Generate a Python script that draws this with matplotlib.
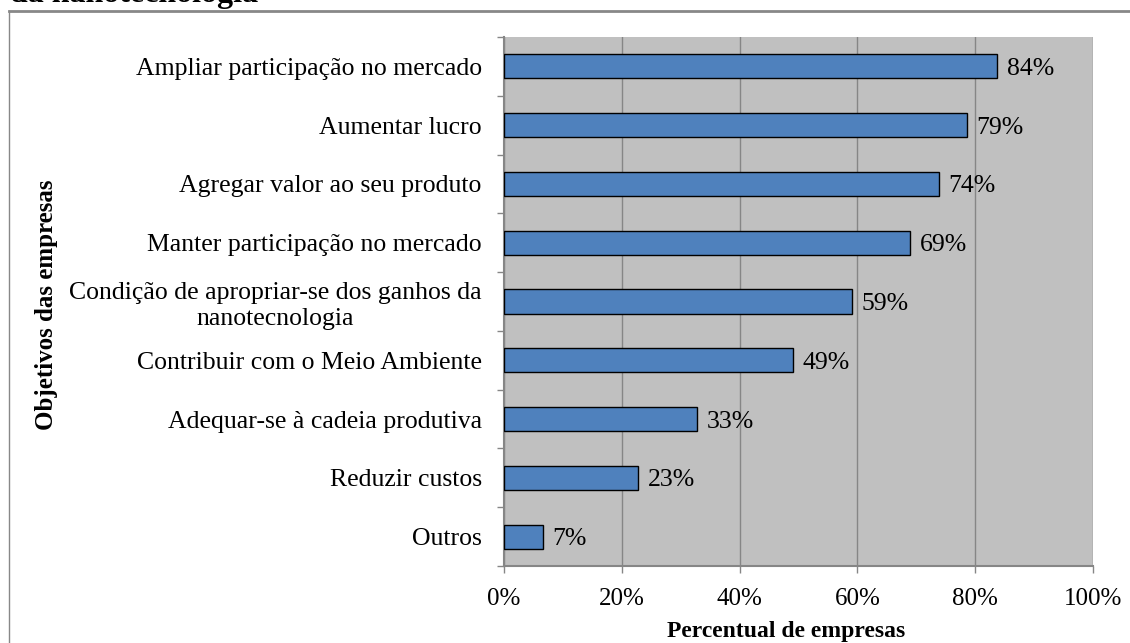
import numpy as np
import matplotlib
matplotlib.use("Agg")
import matplotlib.pyplot as plt
from matplotlib.lines import Line2D
from matplotlib.ticker import FixedLocator

# dados
objetivos = [
    "Ampliar participação no mercado",
    "Aumentar lucro",
    "Agregar valor ao seu produto",
    "Manter participação no mercado",
    "Condição de apropriar-se dos ganhos da\nnanotecnologia",
    "Contribuir com o Meio Ambiente",
    "Adequar-se à cadeia produtiva",
    "Reduzir custos",
    "Outros",
]
percentuais = [83.7, 78.6, 73.8, 68.9, 59.1, 49.1, 32.7, 22.8, 6.6]
rotulos = ["84%", "79%", "74%", "69%", "59%", "49%", "33%", "23%", "7%"]
xticks = [0, 20, 40, 60, 80, 100]
xticklabels = ["0%", "20%", "40%", "60%", "80%", "100%"]

plt.rcParams['font.family'] = ['Liberation Serif', 'DejaVu Serif']

W, H = 1130, 643
fig = plt.figure(figsize=(W / 100, H / 100), dpi=100, facecolor='white')
ax = fig.add_axes([504 / W, 1 - 566 / H, (1093 - 504) / W, (566 - 37) / H])
ax.set_facecolor('#C0C0C0')

y = np.arange(len(objetivos))
ax.barh(y, percentuais, height=0.41, color='#4F81BD', edgecolor='black', linewidth=1, zorder=3)

for yi, v, r in zip(y, percentuais, rotulos):
    ax.annotate(r, (v, yi), xytext=(7, 0), textcoords='offset points',
                va='center_baseline', ha='left', fontsize=18.5)

ax.set_xlim(0, 100)
ax.set_ylim(len(objetivos) - 0.5, -0.5)

ax.set_xticks(xticks)
ax.set_xticklabels(xticklabels, fontsize=18)
ax.tick_params(axis='x', direction='out', length=5, width=1, color='#868686', pad=11)

ax.set_yticks(y)
ax.set_yticklabels(objetivos, fontsize=18.5, multialignment='center', linespacing=1.25)
ax.yaxis.set_minor_locator(FixedLocator(np.arange(-0.5, len(objetivos), 1.0)))
ax.tick_params(axis='y', which='major', length=0, pad=16)
ax.tick_params(axis='y', which='minor', direction='out', length=5, width=1, color='#868686')

ax.grid(axis='x', color='#868686', linewidth=1, zorder=0)
ax.set_axisbelow(True)
for s in ['top', 'right']:
    ax.spines[s].set_visible(False)
for s in ['left', 'bottom']:
    ax.spines[s].set_color('#868686')
    ax.spines[s].set_linewidth(1.5)

fig.text(786 / W, (643 - 631) / H, "Percentual de empresas", fontsize=17,
         fontweight='bold', ha='center', va='center')
fig.text(47 / W, 1 - 305 / H, "Objetivos das empresas", fontsize=18,
         fontweight='bold', ha='center', va='center', rotation=90)

# título cortado e moldura
fig.text(10 / W, 1 - 2 / H, "da nanotecnologia", fontsize=23, fontweight='bold',
         ha='left', va='baseline')
fig.add_artist(Line2D([9 / W, 1], [1 - 11 / H, 1 - 11 / H], color='#888888', linewidth=2))
fig.add_artist(Line2D([9 / W, 9 / W], [0, 1 - 11 / H], color='#888888', linewidth=1))

fig.savefig("out.png", dpi=100, facecolor='white')
